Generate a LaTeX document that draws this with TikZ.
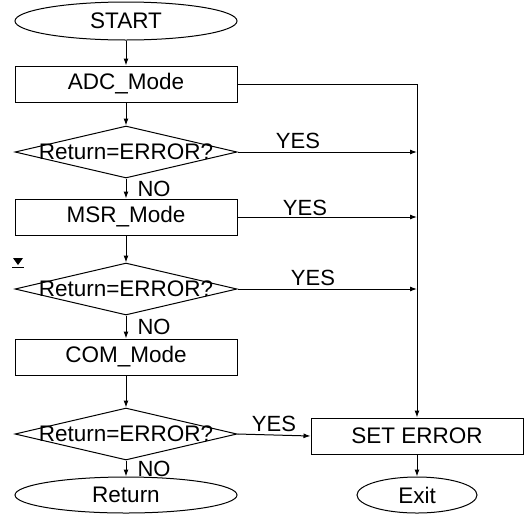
\documentclass[tikz,border=0pt]{standalone}
\usepackage{fontspec}
\setmainfont{Liberation Sans}
\usetikzlibrary{shapes.geometric,arrows.meta}
\begin{document}
\begin{tikzpicture}[x=1pt,y=-1pt,line width=1pt,
  every node/.style={font=\fontsize{22.5}{26}\selectfont, inner sep=0pt},
  proc/.style={draw, rectangle, minimum width=222pt, minimum height=36pt},
  term/.style={draw, ellipse, minimum width=222pt, minimum height=38pt},
  decide/.style={draw, diamond, minimum width=222pt, minimum height=52pt},
  arr/.style={-{Latex[length=7pt,width=5pt]}},
  lbl/.style={font=\fontsize{22}{24}\selectfont}]
\useasboundingbox (0,0) rectangle (524,523);
% left column
\node[term] (start) at (126,21) {START};
\node[proc] (adc) at (126,84) {ADC\_Mode};
\node[decide] (d1) at (126,152) {};
\node at (d1) {Return=ERROR?};
\node[proc] (msr) at (126,217) {MSR\_Mode};
\node[decide] (d2) at (126,289) {};
\node at (d2) {Return=ERROR?};
\node[proc] (com) at (126,357) {COM\_Mode};
\node[decide] (d3) at (126,434) {};
\node at (d3) {Return=ERROR?};
\node[term, minimum height=36pt] (ret) at (126,495) {Return};
% right column
\node[proc, minimum width=212pt] (seterr) at (417,436) {SET ERROR};
\node[draw, ellipse, minimum width=120pt, minimum height=36pt] (exit) at (417,495) {Exit};
% main flow
\draw[arr] (start) -- (adc);
\draw[arr] (adc) -- (d1);
\draw[arr] (d1) -- node[lbl, pos=0.5, anchor=west, xshift=11pt] {NO} (msr);
\draw[arr] (msr) -- (d2);
\draw[arr] (d2) -- node[lbl, pos=0.5, anchor=west, xshift=11pt] {NO} (com);
\draw[arr] (com) -- (d3);
\draw[arr] (d3) -- node[lbl, pos=0.5, anchor=west, xshift=11pt] {NO} (ret);
% error branches
\draw[arr] (adc.east) -| (seterr.north);
\draw[arr] (d1.east) -- (d1.east -| seterr.north);
\draw[arr] (msr.east) -- (msr.east -| seterr.north);
\draw[arr] (d2.east) -- (d2.east -| seterr.north);
\draw[arr] (d3.east) -- (seterr.west);
\draw[arr] (seterr) -- (exit);
% YES labels
\node[lbl] (y1) at (298,141) {YES};
\node[lbl] (y2) at (305,208) {YES};
\node[lbl] (y3) at (313,278) {YES};
\node[lbl] (y4) at (274,424) {YES};
% stray mark
\fill (13,258) -- (23,258) -- (18,265) -- cycle;
\draw[line width=0.6pt] (12,267) -- (24,267);
\end{tikzpicture}
\end{document}
